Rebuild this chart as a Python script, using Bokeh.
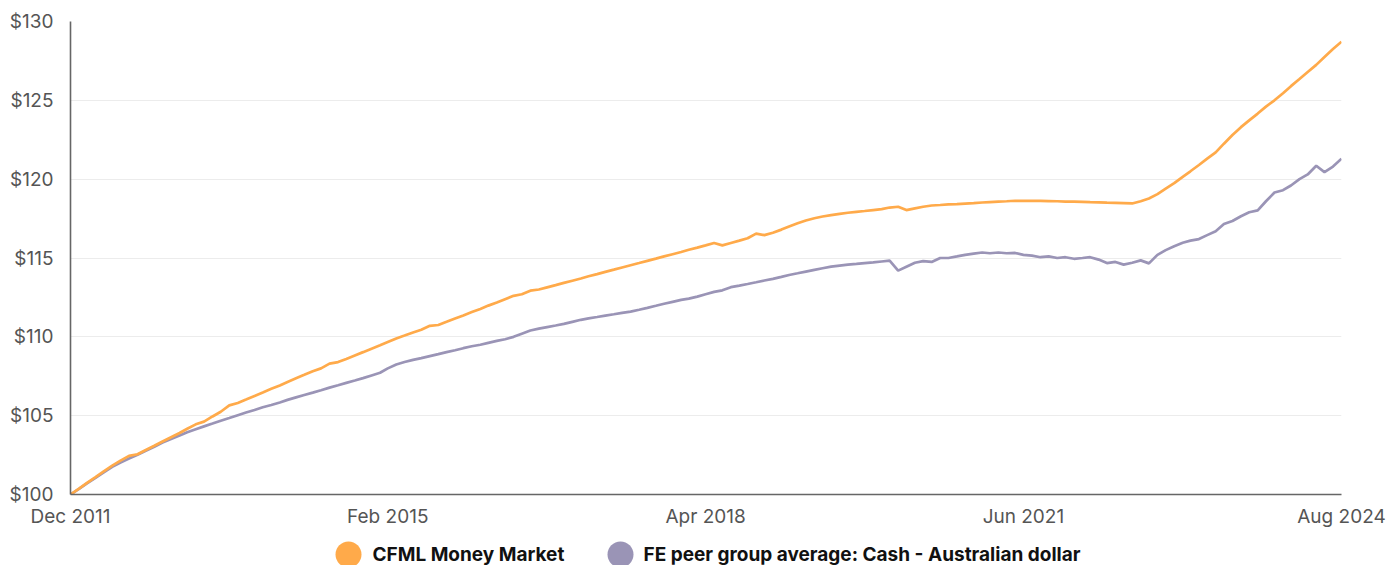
import pandas as pd
from bokeh.plotting import figure
from bokeh.layouts import column
from bokeh.models import (Range1d, FixedTicker, NumeralTickFormatter, DatetimeTickFormatter,
                          ColumnDataSource)
from bokeh.core.properties import value
from bokeh.embed import file_html
from bokeh.resources import INLINE

# ---------------- data (monthly, Dec 2011 .. Aug 2024) ----------------
dates = pd.date_range("2011-12-31", periods=153, freq="ME")

cfml = [
    100.00, 100.37, 100.74, 101.10, 101.47, 101.83, 102.15, 102.45, 102.55, 102.82,
    103.09, 103.36, 103.63, 103.90, 104.17, 104.45, 104.62, 104.95, 105.25, 105.65,
    105.80, 106.02, 106.25, 106.47, 106.70, 106.92, 107.14, 107.37, 107.59, 107.82,
    108.00, 108.30, 108.40, 108.60, 108.82, 109.03, 109.25, 109.46, 109.67, 109.90,
    110.08, 110.27, 110.45, 110.70, 110.75, 110.95, 111.16, 111.36, 111.57, 111.77,
    111.98, 112.18, 112.39, 112.60, 112.70, 112.93, 113.00, 113.14, 113.28, 113.42,
    113.56, 113.70, 113.84, 113.98, 114.12, 114.26, 114.40, 114.54, 114.68, 114.82,
    114.96, 115.10, 115.24, 115.38, 115.52, 115.66, 115.80, 115.95, 115.80, 115.95,
    116.10, 116.25, 116.55, 116.45, 116.60, 116.80, 117.00, 117.20, 117.38, 117.52,
    117.63, 117.72, 117.80, 117.87, 117.93, 117.98, 118.04, 118.10, 118.20, 118.25,
    118.04, 118.15, 118.25, 118.33, 118.36, 118.40, 118.42, 118.45, 118.48, 118.52,
    118.55, 118.58, 118.60, 118.63, 118.62, 118.62, 118.62, 118.61, 118.60, 118.58,
    118.57, 118.56, 118.54, 118.53, 118.51, 118.50, 118.48, 118.46, 118.60, 118.77,
    119.05, 119.40, 119.75, 120.15, 120.50, 120.90, 121.30, 121.70, 122.25, 122.80,
    123.30, 123.73, 124.16, 124.60, 125.00, 125.45, 125.90, 126.35, 126.80, 127.25,
    127.75, 128.25, 128.72,
]

peer = [
    100.00, 100.35, 100.70, 101.05, 101.40, 101.75, 102.02, 102.28, 102.52, 102.78,
    103.03, 103.30, 103.52, 103.74, 103.95, 104.14, 104.32, 104.50, 104.68, 104.85,
    105.03, 105.20, 105.36, 105.53, 105.68, 105.84, 106.00, 106.16, 106.31, 106.46,
    106.61, 106.78, 106.93, 107.08, 107.23, 107.38, 107.55, 107.72, 108.00, 108.25,
    108.40, 108.54, 108.65, 108.78, 108.90, 109.03, 109.15, 109.28, 109.40, 109.50,
    109.62, 109.74, 109.85, 110.00, 110.20, 110.40, 110.52, 110.62, 110.72, 110.82,
    110.95, 111.08, 111.17, 111.26, 111.35, 111.43, 111.52, 111.60, 111.72, 111.84,
    111.97, 112.10, 112.22, 112.34, 112.42, 112.55, 112.70, 112.85, 112.95, 113.15,
    113.25, 113.35, 113.46, 113.57, 113.68, 113.80, 113.92, 114.03, 114.14, 114.25,
    114.35, 114.45, 114.52, 114.58, 114.63, 114.68, 114.72, 114.78, 114.83, 114.20,
    114.45, 114.70, 114.80, 114.75, 115.00, 115.00, 115.10, 115.20, 115.28, 115.35,
    115.30, 115.35, 115.30, 115.32, 115.20, 115.15, 115.05, 115.10, 115.00, 115.05,
    114.95, 115.00, 115.05, 114.90, 114.68, 114.75, 114.58, 114.70, 114.85, 114.66,
    115.20, 115.50, 115.75, 115.97, 116.10, 116.20, 116.45, 116.70, 117.15, 117.35,
    117.65, 117.90, 118.02, 118.60, 119.15, 119.30, 119.60, 120.00, 120.30, 120.85,
    120.45, 120.80, 121.30,
]

series_names = ["CFML Money Market", "FE peer group average: Cash - Australian dollar"]
series_colors = ["#ffaa4a", "#9a94b6"]
y_ticks = [100, 105, 110, 115, 120, 125, 130]
x_tick_dates = ["2011-12-31", "2015-02-28", "2018-04-30", "2021-06-30", "2024-08-31"]

W = 1386
FONT = "Inter"
BL, BR = 70, 45

# ---------------- main chart ----------------
p = figure(width=W, height=530, output_backend="svg", toolbar_location=None,
           x_axis_type="datetime",
           x_range=Range1d(dates[0], dates[-1]), y_range=Range1d(100, 130),
           min_border_left=BL, min_border_right=BR, min_border_top=21, min_border_bottom=35)
p.outline_line_color = None

src = ColumnDataSource(dict(x=dates, a=cfml, b=peer))
p.line("x", "b", source=src, line_color=series_colors[1], line_width=2.7)
p.line("x", "a", source=src, line_color=series_colors[0], line_width=2.7)

tick_ms = [pd.Timestamp(d).value / 1e6 for d in x_tick_dates]
p.xaxis.ticker = FixedTicker(ticks=tick_ms)
fmt = "%b %Y"
p.xaxis.formatter = DatetimeTickFormatter(years=fmt, months=fmt, days=fmt, hours=fmt,
                                          minutes=fmt, seconds=fmt, milliseconds=fmt,
                                          microseconds=fmt, hourmin=fmt, minsec=fmt)
p.yaxis.ticker = FixedTicker(ticks=y_ticks)
p.yaxis.formatter = NumeralTickFormatter(format="$0")

for ax in (p.xaxis[0], p.yaxis[0]):
    ax.axis_line_color = "#666666"
    ax.axis_line_width = 1.6
    ax.major_tick_line_color = None
    ax.minor_tick_line_color = None
    ax.major_label_text_font = FONT
    ax.major_label_text_font_size = "19px"
    ax.major_label_text_color = "#555555"
p.xaxis.major_label_standoff = 4
p.yaxis.major_label_standoff = 11

p.xgrid.grid_line_color = None
p.ygrid.grid_line_color = "#ececec"
p.ygrid.grid_line_width = 1

# ---------------- legend strip (x in page pixels) ----------------
lg = figure(width=W, height=35, output_backend="svg", toolbar_location=None,
            x_range=Range1d(BL, W - BR), y_range=Range1d(0, 35),
            x_axis_location=None, y_axis_location=None,
            min_border=0, min_border_left=BL, min_border_right=BR,
            min_border_top=0, min_border_bottom=0)
lg.grid.visible = False
lg.outline_line_color = None

leg_src = ColumnDataSource(dict(cx=[348, 620], tx=[372, 643], y=[11, 11],
                                color=series_colors, label=series_names))
lg.scatter("cx", "y", source=leg_src, size=26, color="color", line_color=None)
lg.text("tx", "y", text="label", source=leg_src, text_font=value(FONT),
        text_font_style="bold", text_font_size="19px", text_color="#111111",
        text_baseline="middle", text_align="left")

layout = column(p, lg, spacing=0)
open("out.html", "w").write(file_html(layout, INLINE))
